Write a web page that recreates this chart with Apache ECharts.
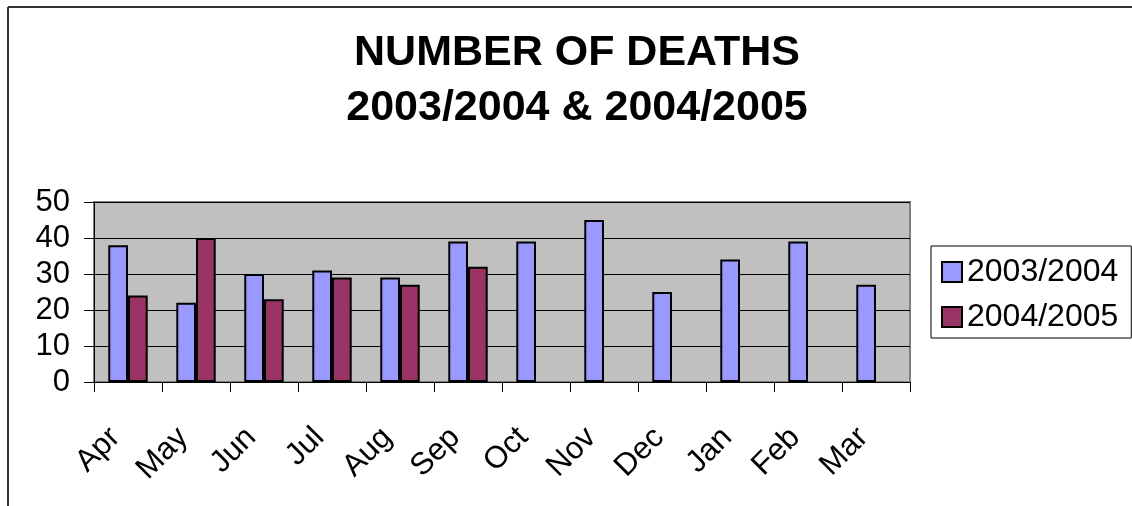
<!DOCTYPE html>
<html>
<head>
<meta charset="utf-8">
<script src="https://cdn.jsdelivr.net/npm/echarts@6/dist/echarts.min.js"></script>
<style>
  html, body { margin: 0; padding: 0; background: #fff; }
  #chart { width: 1132px; height: 506px; }
</style>
</head>
<body>
<div id="chart"></div>
<script>
// data
const months = ['Apr', 'May', 'Jun', 'Jul', 'Aug', 'Sep', 'Oct', 'Nov', 'Dec', 'Jan', 'Feb', 'Mar'];
const deaths2003 = [38, 22, 30, 31, 29, 39, 39, 45, 25, 34, 39, 27];
const deaths2004 = [24, 40, 23, 29, 27, 32, null, null, null, null, null, null];
const yTicks = { min: 0, max: 50, step: 10 };

const font = '"Liberation Sans", Arial, sans-serif';

var myChart = echarts.init(document.getElementById('chart'));
const option = {
  animation: false,
  backgroundColor: '#fff',
  textStyle: { fontFamily: font },
  title: {
    text: 'NUMBER OF DEATHS\n2003/2004 & 2004/2005',
    left: 572,
    top: 21,
    textAlign: 'center',
    textStyle: {
      fontFamily: font,
      fontSize: 43,
      fontWeight: 'bold',
      color: '#000',
      lineHeight: 55
    }
  },
  legend: {
    orient: 'vertical',
    left: 931,
    top: 246,
    padding: [10, 13, 5, 10],
    itemGap: 13,
    itemWidth: 20,
    itemHeight: 20,
    itemTextGap: 8,
    icon: 'rect',
    borderColor: '#000',
    borderWidth: 1,
    backgroundColor: '#fff',
    textStyle: { fontFamily: font, fontSize: 32, color: '#000' },
    itemStyle: { borderColor: '#000', borderWidth: 2 }
  },
  grid: {
    left: 94,
    right: 222,
    top: 202,
    bottom: 124,
    show: true,
    backgroundColor: '#C0C0C0',
    borderColor: '#808080',
    borderWidth: 2
  },
  xAxis: {
    type: 'category',
    data: months,
    axisLine: { lineStyle: { color: '#000', width: 1 } },
    axisTick: { show: true, alignWithLabel: false, length: 10, lineStyle: { color: '#000' } },
    axisLabel: {
      rotate: 45,
      interval: 0,
      margin: 38,
      padding: [0, 18, 0, 0],
      fontFamily: font,
      fontSize: 31,
      color: '#000'
    }
  },
  yAxis: {
    type: 'value',
    min: yTicks.min,
    max: yTicks.max,
    interval: yTicks.step,
    axisLine: { show: true, lineStyle: { color: '#000', width: 1 } },
    axisTick: { show: true, length: 10, lineStyle: { color: '#000' } },
    axisLabel: { margin: 24, fontFamily: font, fontSize: 31, color: '#000' },
    splitLine: { show: true, lineStyle: { color: '#000', width: 1 } }
  },
  series: [
    {
      name: '2003/2004',
      type: 'bar',
      data: deaths2003,
      barGap: '0%',
      barCategoryGap: '42%',
      itemStyle: { color: '#9999FF', borderColor: '#000', borderWidth: 2 }
    },
    {
      name: '2004/2005',
      type: 'bar',
      data: deaths2004,
      itemStyle: { color: '#993366', borderColor: '#000', borderWidth: 2 }
    }
  ],
  graphic: [
    // chart frame (top and left edges only)
    { type: 'line', shape: { x1: 8, y1: 7, x2: 1132, y2: 7 }, style: { stroke: '#333', lineWidth: 2 } },
    { type: 'line', shape: { x1: 8, y1: 7, x2: 8, y2: 506 }, style: { stroke: '#333', lineWidth: 2 } }
  ]
};
myChart.setOption(option);
</script>
</body>
</html>
